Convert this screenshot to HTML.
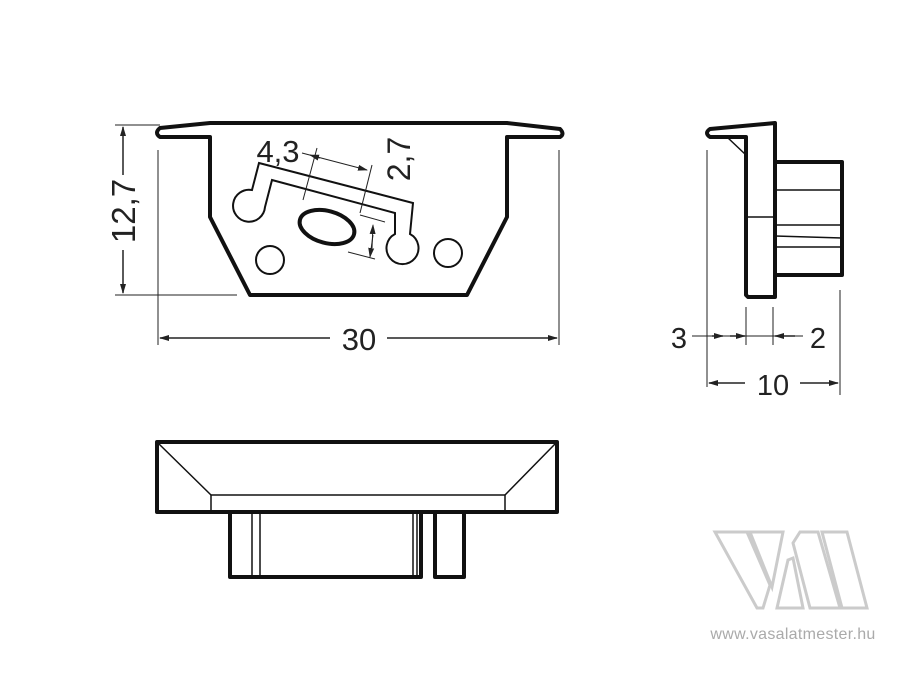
<!DOCTYPE html>
<html><head><meta charset="utf-8"><style>
html,body{margin:0;padding:0;background:#fff;}
svg{display:block;}
text{font-family:"Liberation Sans",sans-serif;fill:#222;}
</style></head><body>
<svg width="900" height="675" viewBox="0 0 900 675" xmlns="http://www.w3.org/2000/svg">
<defs>
<marker id="a" markerWidth="10" markerHeight="8" refX="9" refY="4" orient="auto" markerUnits="userSpaceOnUse"><path d="M0,1 L10,4 L0,7 Z" fill="#222"/></marker>
</defs>
<rect width="900" height="675" fill="#fff"/>
<!-- TOP VIEW -->
<g fill="none" stroke="#111" stroke-width="4" stroke-linejoin="round">
<path d="M210,123 L507,123 L560,129 Q565,134 560,137 L507,137 L507,217 L467,295 L250,295 L210,217 L210,137 L160,137 Q154,133 160,128 Z"/>
<ellipse cx="327" cy="227" rx="28" ry="16" transform="rotate(15 327 227)" stroke-width="4"/>
</g>
<g fill="none" stroke="#111" stroke-width="2">
<circle cx="270" cy="260" r="14"/>
<circle cx="448" cy="253" r="14"/>
<path d="M259,163 L413,203 L410,234 A16,16 0 1 1 395,234 L395,213 L272,180 L265,207 A16,16 0 1 1 252,190 Z"/>
</g>
<g stroke="#222" stroke-width="1" fill="none">
<line x1="317" y1="148" x2="303" y2="200"/>
<line x1="372" y1="165" x2="360" y2="213"/>
<line x1="360" y1="215" x2="385" y2="222"/>
<line x1="348" y1="252" x2="375" y2="259"/>
<line x1="302" y1="153" x2="367" y2="170" marker-end="url(#a)"/>
<line x1="320" y1="158" x2="310" y2="155" marker-end="url(#a)"/>
<line x1="373" y1="235" x2="370" y2="257" marker-end="url(#a)"/>
<line x1="372" y1="248" x2="373" y2="225" marker-end="url(#a)"/>
<line x1="115" y1="125" x2="160" y2="125"/>
<line x1="115" y1="295" x2="237" y2="295"/>
<line x1="158" y1="150" x2="158" y2="345"/>
<line x1="559" y1="150" x2="559" y2="345"/>
</g>
<g stroke="#222" stroke-width="1.5" fill="none">
<line x1="123" y1="175" x2="123" y2="127" marker-end="url(#a)"/>
<line x1="123" y1="250" x2="123" y2="293" marker-end="url(#a)"/>
<line x1="330" y1="338" x2="160" y2="338" marker-end="url(#a)"/>
<line x1="387" y1="338" x2="557" y2="338" marker-end="url(#a)"/>
</g>
<text x="278" y="162" font-size="31" text-anchor="middle">4,3</text>
<text transform="translate(410,159) rotate(-90)" font-size="32" text-anchor="middle">2,7</text>
<text transform="translate(135,211) rotate(-90)" font-size="33" text-anchor="middle">12,7</text>
<text x="359" y="350" font-size="31" text-anchor="middle">30</text>
<!-- SIDE VIEW -->
<g fill="none" stroke="#111" stroke-width="4" stroke-linejoin="round">
<path d="M775,123 L775,297 L748,297 L746,295 L746,137 L710,137 Q704,133 710,129 Z"/>
<rect x="775" y="162" width="67" height="113"/>
</g>
<g stroke="#111" stroke-width="1.5" fill="none">
<line x1="727" y1="137" x2="746" y2="155"/>
<line x1="746" y1="217" x2="775" y2="217"/>
<line x1="775" y1="190" x2="842" y2="190"/>
<line x1="775" y1="225" x2="842" y2="225"/>
<line x1="775" y1="236" x2="842" y2="238"/>
<line x1="775" y1="247" x2="842" y2="247"/>
</g>
<g stroke="#222" stroke-width="1" fill="none">
<line x1="707" y1="150" x2="707" y2="387"/>
<line x1="746" y1="307" x2="746" y2="345"/>
<line x1="773" y1="307" x2="773" y2="345"/>
<line x1="840" y1="290" x2="840" y2="395"/>
<line x1="692" y1="336" x2="803" y2="336"/>
</g>
<g stroke="#222" stroke-width="1.5" fill="none">
<line x1="712" y1="336" x2="723" y2="336" marker-end="url(#a)"/>
<line x1="730" y1="336" x2="745" y2="336" marker-end="url(#a)"/>
<line x1="795" y1="336" x2="775" y2="336" marker-end="url(#a)"/>
<line x1="745" y1="383" x2="709" y2="383" marker-end="url(#a)"/>
<line x1="800" y1="383" x2="838" y2="383" marker-end="url(#a)"/>
</g>
<text x="679" y="348" font-size="29" text-anchor="middle">3</text>
<text x="818" y="348" font-size="29" text-anchor="middle">2</text>
<text x="773" y="395" font-size="29" text-anchor="middle">10</text>
<!-- BOTTOM VIEW -->
<g fill="none" stroke="#111" stroke-width="4" stroke-linejoin="round">
<rect x="157" y="442" width="400" height="70"/>
<path d="M230,512 L230,577 L421,577 L421,512"/>
<path d="M435,512 L435,577 L464,577 L464,512"/>
</g>
<g stroke="#111" stroke-width="1.5" fill="none">
<line x1="159" y1="444" x2="211" y2="495"/>
<line x1="555" y1="444" x2="505" y2="495"/>
<line x1="211" y1="495" x2="505" y2="495"/>
<line x1="211" y1="495" x2="211" y2="512"/>
<line x1="505" y1="495" x2="505" y2="512"/>
<line x1="252" y1="512" x2="252" y2="577"/>
<line x1="260" y1="512" x2="260" y2="577"/>
<line x1="413" y1="512" x2="413" y2="577"/>
<line x1="417" y1="512" x2="417" y2="577"/>
</g>
<!-- LOGO -->
<g fill="none" stroke="#cbcbcb" stroke-width="3" stroke-linejoin="miter">
<polygon points="715,532 747,532 770,585 763,608 757,608"/>
<polygon points="750,532 783,532 772,587"/>
<polygon points="788,560 793,558 803,608 777,608"/>
<polygon points="793,543 800,532 818,532 840,608 810,608"/>
<polygon points="822,532 847,532 867,608 842,608"/>
</g>
<text x="793" y="639" font-size="16" text-anchor="middle" style="fill:#aaa;letter-spacing:0.3px">www.vasalatmester.hu</text>
</svg>
</body></html>
